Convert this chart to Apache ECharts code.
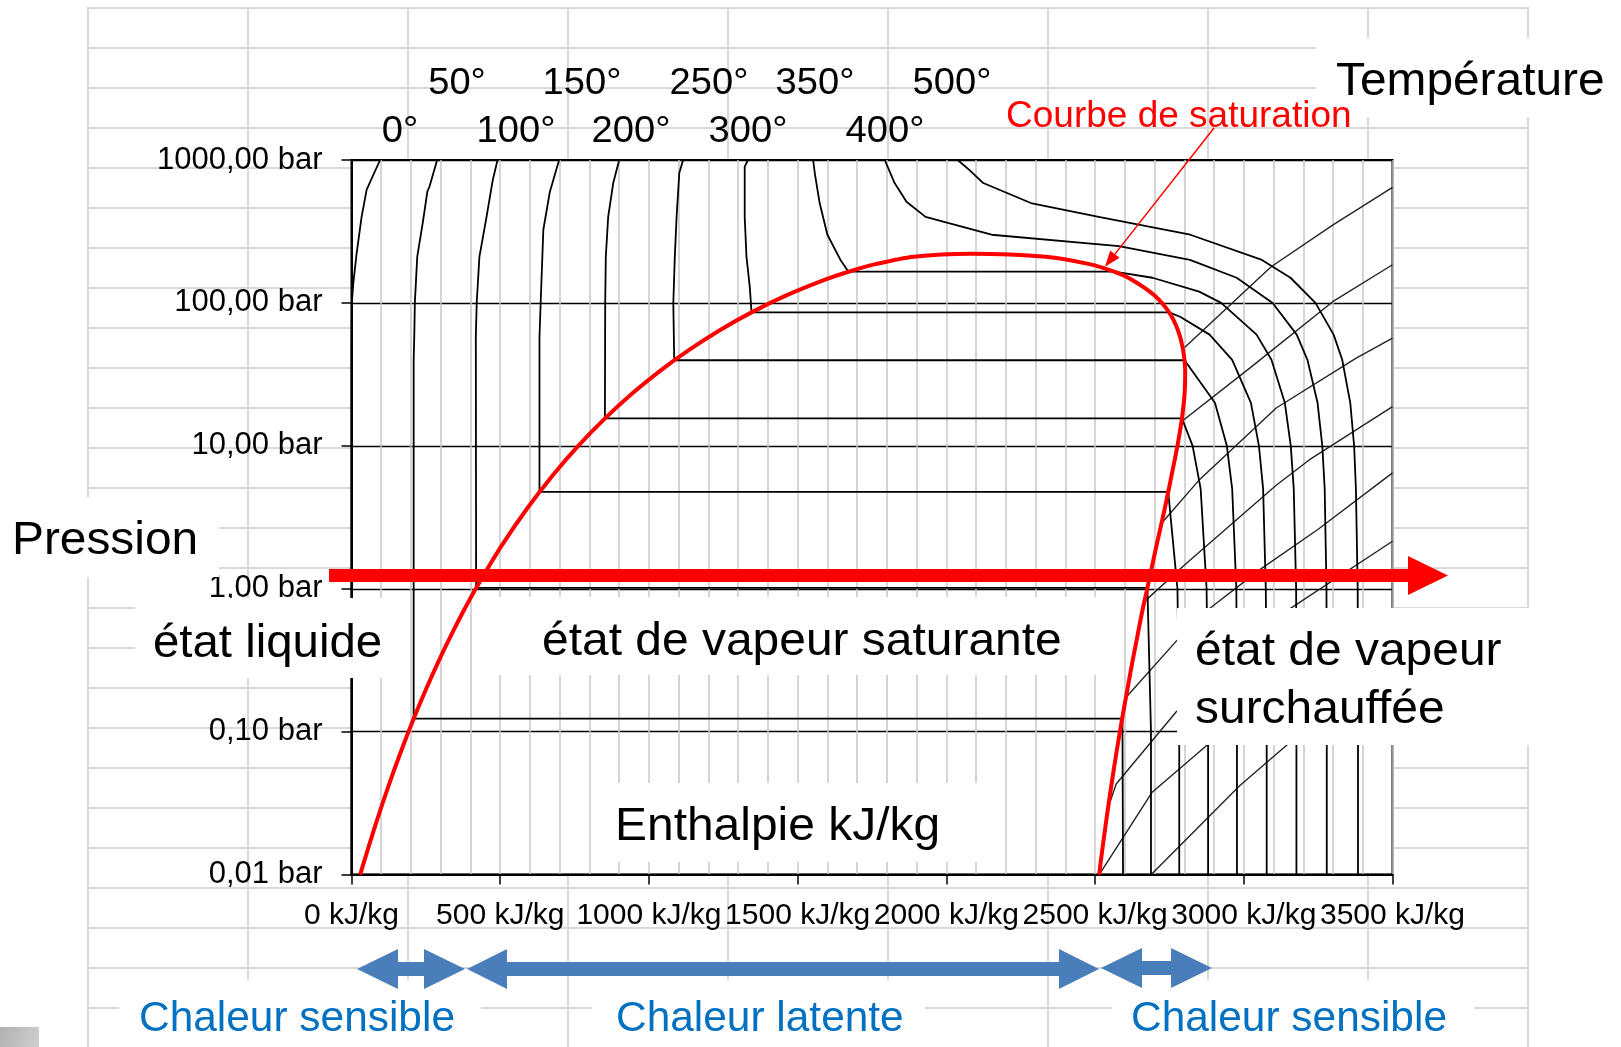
<!DOCTYPE html>
<html>
<head>
<meta charset="utf-8">
<script src="https://cdn.jsdelivr.net/npm/echarts@6/dist/echarts.min.js"></script>
<style>
html, body { margin: 0; padding: 0; background: #fff; }
/* fond type tableur */
#sheet {
  position: absolute; left: 87px; top: 6.5px; width: 1442px; height: 1041px;
  background-image: linear-gradient(to right, #d9d9d9 0, #d9d9d9 2px, transparent 2px),
                    linear-gradient(to bottom, #d9d9d9 0, #d9d9d9 2px, transparent 2px);
  background-size: 160px 100%, 100% 40px;
}
#chart { position: absolute; left: 0; top: 0; width: 1621px; height: 1047px; }
</style>
</head>
<body>
<div id="sheet"></div>
<div id="chart"></div>
<script>
// points [enthalpie kJ/kg, pression bar]
const saturation = [
  [29.3,0.01],[42.0,0.01228],[83.9,0.02339],[125.7,0.04247],[167.5,0.07384],[209.3,0.1235],
  [251.2,0.1995],[293.0,0.312],[335.0,0.4741],[377.0,0.7018],[419.1,1.0142],[503.8,1.985],
  [589.2,3.615],[675.5,6.182],[763.1,10.03],[852.3,15.55],[943.6,23.2],[1037.6,33.47],
  [1135.0,46.92],[1236.8,64.17],[1344.8,85.88],[1462.2,112.8],[1594.5,145.9],[1671,165.3],
  [1762,186.7],[1890,210.4],[2084,220.6],[2334,210.4],[2481,186.7],[2564,165.3],[2622,145.9],
  [2700,112.8],[2749,85.88],[2779,64.17],[2796,46.92],[2803,33.47],[2801,23.2],[2792,15.55],
  [2777,10.03],[2757,6.182],[2734,3.615],[2706,1.985],[2676,1.0142],[2659,0.7018],[2643,0.4741],
  [2626,0.312],[2609,0.1995],[2591,0.1235],[2573,0.07384],[2555,0.04247],[2537,0.02339],
  [2519,0.01228],[2514,0.01]
];

const iso0 = [[96,1000],[51,620],[34,400],[17,220],[6,137],[1,100],[0,50],[0,0.01]];
const iso50 = [[288,1000],[262,650],[255,600],[241,380],[221,210],[213,100],[211,58],[209,40],
  [209,0.1235],[2592,0.1235],[2594,0.01]];
const iso100 = [[491,1000],[475,725],[454,400],[430,210],[421,100],[418,58],[419,1.014],
  [2676,1.014],[2688,0.1],[2688,0.01]];
const iso150 = [[698,1000],[667,600],[645,325],[636,100],[632,58],[632,4.76],
  [2746,4.76],[2777,1],[2783,0.1],[2783,0.01]];
const iso200 = [[900,1000],[880,690],[863,400],[855,210],[853,100],[852,15.55],
  [2792,15.55],[2828,10],[2855,5],[2875,1],[2880,0.1],[2880,0.01]];
const iso250 = [[1115,1000],[1102,810],[1093,400],[1087,210],[1082,100],[1085,39.7],
  [2801,39.7],[2903,20],[2943,10],[2961,5],[2975,1],[2977,0.1],[2977,0.01]];
const iso300 = [[1333,1000],[1322,900],[1322,400],[1328,210],[1339,130],[1345,85.9],
  [2749,85.9],[2786,80],[2885,60],[2961,40],[3024,20],[3051,10],[3065,5],[3074,1],[3077,0.1],[3077,0.01]];
const iso350 = [[1552,1000],[1558,800],[1574,500],[1600,300],[1644,200],[1671,165.3],
  [2564,165.3],[2693,150],[2850,120],[2924,100],[3043,60],[3093,40],[3138,20],[3158,10],
  [3168,5],[3176,1],[3177,0.1],[3177,0.01]];
const iso400 = [[1793,1000],[1826,690],[1866,510],[1930,400],[2152,300],[2580,250],[2819,200],
  [2976,150],[3097,100],[3178,60],[3214,40],[3248,20],[3264,10],[3272,5],[3278,1],[3279,0.1],[3279,0.01]];
const iso500 = [[2038,1000],[2078,850],[2124,690],[2284,500],[2512,400],[2820,300],[3061,200],
  [3157,150],[3241,100],[3302,60],[3331,40],[3358,20],[3371,10],[3377,5],[3383,1],[3384,0.1],[3384,0.01]];

// lignes obliques de la zone surchauffée
const s60 = [[2801,48.7],[3092,179],[3300,352],[3500,644]];
const s65 = [[2791,14.8],[3020,35],[3299,102],[3500,185]];
const s70 = [[2725,2.9],[2851,5.8],[3109,18.4],[3378,41.1],[3500,56.8]];
const s75 = [[2662,0.8],[2795,1.43],[3109,5.3],[3221,8],[3500,18.8]];
const s80 = [[2600,0.17],[2773,0.43],[2886,0.73],[3054,1.36],[3249,2.6],[3500,6.47]];
const s85 = [[2545,0.03],[2571,0.043],[2773,0.138],[3157,0.73],[3500,2.15]];
const s90 = [[2514,0.01],[2691,0.0375],[2880,0.0817],[3500,0.7]];
const s95 = [[2689,0.01],[2986,0.0418],[3148,0.0817],[3500,0.238]];

const tempLabels = ['0°','50°','100°','150°','200°','250°','300°','350°','400°','500°'];
const tempLabelX = [400,457,516,582,631,709,748,815,885,952];
const xUnit = ' kJ/kg';
const yUnit = ' bar';

const FONT = '"Liberation Sans", Arial, sans-serif';

const chartInstance = echarts.init(document.getElementById('chart'));

const lineSerie = (data, color, width) => ({
  type: 'line', data: data, showSymbol: false, symbol: 'none', silent: true,
  lineStyle: { color: color, width: width }, animation: false
});

const isotherms = [iso0, iso50, iso100, iso150, iso200, iso250, iso300, iso350, iso400, iso500];
const isentropes = [s60, s65, s70, s75, s80, s85, s90, s95];

const series = [];
isentropes.forEach(d => series.push(lineSerie(d, '#222222', 1.4)));
isotherms.forEach(d => series.push(lineSerie(d, '#000000', 1.8)));
series.push(Object.assign(lineSerie(saturation, '#ff0000', 4), { smooth: 0.3, z: 5 }));

// textes de la diapositive (sx : léger étirement horizontal de l'original)
const txt = (text, x, y, size, color, align, sx) => ({
  type: 'text', z: 110, silent: true,
  x: x, y: y, scaleX: sx || 1, scaleY: 1,
  style: {
    text: text, x: 0, y: 0, fill: color || '#000', fontSize: size, fontFamily: FONT,
    align: align || 'left', textAlign: align || 'left',
    verticalAlign: 'middle', textVerticalAlign: 'middle'
  }
});
const box = (x, y, w, h) => ({
  type: 'rect', z: 100, silent: true, shape: { x: x, y: y, width: w, height: h }, style: { fill: '#fff' }
});
const dblArrow = (x1, x2, yc, hl, hh, sh) => ({
  type: 'polygon', z: 100, silent: true,
  shape: { points: [[x1,yc],[x1+hl,yc-hh],[x1+hl,yc-sh],[x2-hl,yc-sh],[x2-hl,yc-hh],[x2,yc],
    [x2-hl,yc+hh],[x2-hl,yc+sh],[x1+hl,yc+sh],[x1+hl,yc+hh]] },
  style: { fill: '#4a7ebb' }
});

const graphics = [
  box(1316, 38, 305, 79),
  box(0, 497, 219, 80),
  box(135, 598, 270, 80),
  box(490, 597, 620, 78),
  box(1177, 608, 444, 137),
  box(605, 783, 390, 79),
  box(119, 980, 362, 67),
  box(592, 980, 333, 67),
  box(1112, 980, 362, 67),
  { type: 'rect', z: 100, silent: true, shape: { x: 0, y: 1027, width: 39, height: 20 },
    style: { fill: new echarts.graphic.LinearGradient(0, 0, 1, 1, [
      { offset: 0, color: '#b0b0b0' }, { offset: 1, color: '#d0d0d0' }]) } },
  // grande flèche rouge
  { type: 'polygon', z: 105, silent: true,
    shape: { points: [[329,569],[1408,569],[1408,556],[1448,575.5],[1408,595],[1408,582],[329,582]] },
    style: { fill: '#ff0000' } },
  // flèche vers la courbe de saturation
  { type: 'line', z: 105, silent: true, shape: { x1: 1214, y1: 128, x2: 1114.9, y2: 254.1 },
    style: { stroke: '#ff0000', lineWidth: 1.5 } },
  { type: 'polygon', z: 105, silent: true,
    shape: { points: [[1105,266.7],[1119.6,257.8],[1110.2,250.4]] }, style: { fill: '#ff0000' } },
  dblArrow(357, 465, 969, 41, 20, 7),
  dblArrow(467, 1099, 969, 40, 20, 7),
  dblArrow(1101, 1212, 968, 41, 20, 7),
  txt('Température', 1336, 82, 46, '#000', 'left', 1.04),
  txt('Courbe de saturation', 1006, 117, 37, '#ff0000', 'left', 1.0),
  txt('Pression', 12, 541, 46, '#000', 'left', 1.04),
  txt('état liquide', 153, 644, 46, '#000', 'left', 1.03),
  txt('état de vapeur saturante', 542, 642, 47, '#000', 'left', 1.02),
  txt('état de vapeur', 1195, 652, 47, '#000', 'left', 1.02),
  txt('surchauffée', 1195, 710, 47, '#000', 'left', 1.02),
  txt('Enthalpie kJ/kg', 615, 827, 47, '#000', 'left', 1.02),
  txt('Chaleur sensible', 139, 1019, 42, '#0070c0', 'left', 1.01),
  txt('Chaleur latente', 616, 1019, 42, '#0070c0', 'left', 1.01),
  txt('Chaleur sensible', 1131, 1019, 42, '#0070c0', 'left', 1.01)
];
tempLabels.forEach((t, i) => {
  graphics.push(txt(t, tempLabelX[i], i % 2 === 0 ? 132 : 84, 37, '#000', 'center', 1.03));
});

const option = {
  animation: false,
  backgroundColor: 'transparent',
  grid: {
    left: 351.5, right: 228.5, top: 160, bottom: 172.4,
    show: true, backgroundColor: '#fff', borderColor: '#000', borderWidth: 2
  },
  xAxis: {
    type: 'value', min: 0, max: 3500, interval: 500,
    axisLine: { show: true, onZero: false, lineStyle: { color: '#000', width: 2 } },
    axisTick: { show: true, inside: false, length: 10, lineStyle: { color: '#000', width: 1.5 } },
    axisLabel: {
      formatter: v => v + xUnit, color: '#000', fontSize: 30, fontFamily: FONT, margin: 26
    },
    splitLine: { show: true, lineStyle: { color: '#c8c8c8', width: 1.5 } },
    minorTick: { show: false, splitNumber: 5 },
    minorSplitLine: { show: true, lineStyle: { color: '#c8c8c8', width: 1.5 } }
  },
  yAxis: {
    type: 'log', logBase: 10, min: 0.01, max: 1000,
    axisLine: { show: true, onZero: false, lineStyle: { color: '#000', width: 2 } },
    axisTick: { show: true, inside: false, length: 10, lineStyle: { color: '#000', width: 1.5 } },
    axisLabel: {
      formatter: v => Number(v).toFixed(2).replace('.', ',') + yUnit,
      color: '#000', fontSize: 31, fontFamily: FONT, margin: 29, padding: [4, 0, 0, 0]
    },
    splitLine: { show: true, lineStyle: { color: '#000', width: 1.3 } }
  },
  series: series,
  graphic: { elements: graphics }
};
chartInstance.setOption(option);
</script>
</body>
</html>
